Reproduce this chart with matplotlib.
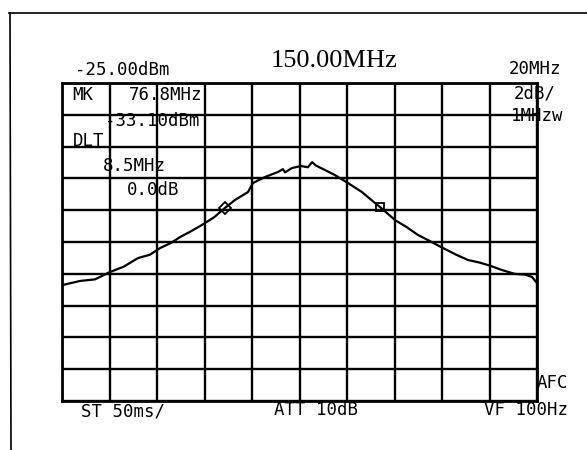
import matplotlib
matplotlib.use("Agg")
import matplotlib.pyplot as plt

# spectrum analyser print-out: centre 150 MHz, span 20 MHz, ref -25 dBm, 2 dB/div
freq_mhz = [140.04, 140.76, 141.39, 142.02, 142.6, 143.20, 143.7, 144.13, 144.6, 144.97,
            145.4, 145.89, 146.4, 146.86, 147.28, 147.83, 148.04, 148.55, 149.09, 149.3,
            149.39, 149.68, 150.06, 150.35, 150.53, 150.7, 151.07, 151.49, 152.04, 152.63,
            153.18, 153.39, 153.7, 154.02, 154.5, 154.99, 155.5, 156.04, 156.6, 157.09,
            157.6, 158.06, 158.5, 159.07, 159.5, 159.79, 160.00]
level_dbm = [-37.70, -37.45, -37.35, -36.89, -36.55, -36.01, -35.80, -35.38, -35.05, -34.69,
             -34.35, -33.93, -33.45, -32.86, -32.36, -31.86, -31.29, -30.91, -30.60, -30.42,
             -30.62, -30.35, -30.22, -30.30, -29.98, -30.20, -30.47, -30.79, -31.29, -31.86,
             -32.55, -32.80, -33.20, -33.62, -34.05, -34.56, -34.95, -35.38, -35.80, -36.13,
             -36.30, -36.51, -36.75, -37.01, -37.05, -37.20, -37.58]
marker_freqs = [146.86, 153.39]
marker_levels = [-32.86, -32.80]

header_left = "-25.00dBm"
header_center = "150.00MHz"
header_right = ["20MHz", "2dB/", "1MHzw"]
marker_info = ["MK", "76.8MHz", "-33.10dBm", "DLT", "8.5MHz", "0.0dB"]
footer = ["ST 50ms/", "ATT 10dB", "VF 100Hz", "AFC"]

W, H = 587, 450
fig = plt.figure(figsize=(W / 100, H / 100), dpi=100)


def fx(x):
    return x / W


def fy(y):
    return 1 - y / H


# outer frame of the print-out
fig.add_artist(plt.Line2D([fx(9), fx(587)], [fy(13), fy(13)], color="black", lw=1.2))
fig.add_artist(plt.Line2D([fx(10), fx(11)], [fy(13), fy(450)], color="black", lw=1.2))

ax = fig.add_axes([fx(62), fy(401), (537 - 62) / W, (401 - 83) / H])
ax.set_xlim(140, 160)
ax.set_ylim(-45, -25)
ax.set_xticks(range(140, 161, 2))
ax.set_yticks(range(-45, -24, 2))
ax.tick_params(length=0, labelbottom=False, labelleft=False)
ax.grid(True, color="black", lw=1.7)
for s in ax.spines.values():
    s.set_linewidth(2)

ax.plot(freq_mhz, level_dbm, color="black", lw=1.6)
ax.plot(marker_freqs[0], marker_levels[0], marker="D", ms=6, mfc="none", mec="black", mew=1.3)
ax.plot(marker_freqs[1], marker_levels[1], marker="s", ms=6, mfc="none", mec="black", mew=1.3)

mono = dict(family="DejaVu Sans Mono", fontsize=12.5, color="black", va="center")
fig.text(fx(75), fy(70), header_left, ha="left", **mono)
fig.text(fx(334), fy(61), header_center, ha="center", va="center",
         family="Liberation Serif", fontsize=19)
fig.text(fx(561), fy(69), header_right[0], ha="right", **mono)
fig.text(fx(556), fy(94), header_right[1], ha="right", **mono)
fig.text(fx(563), fy(116), header_right[2], ha="right", **mono)

fig.text(fx(72), fy(95), marker_info[0], ha="left", **mono)
fig.text(fx(129), fy(95), marker_info[1], ha="left", **mono)
fig.text(fx(105), fy(121), marker_info[2], ha="left", **mono)
fig.text(fx(73), fy(141), marker_info[3], ha="left", **mono)
fig.text(fx(103), fy(166), marker_info[4], ha="left", **mono)
fig.text(fx(127), fy(190), marker_info[5], ha="left", **mono)

fig.text(fx(81), fy(411), footer[0], ha="left", **mono)
fig.text(fx(274), fy(410), footer[1], ha="left", **mono)
fig.text(fx(568), fy(410), footer[2], ha="right", **mono)
fig.text(fx(568), fy(383), footer[3], ha="right", **mono)

fig.savefig("out.png", dpi=100)
